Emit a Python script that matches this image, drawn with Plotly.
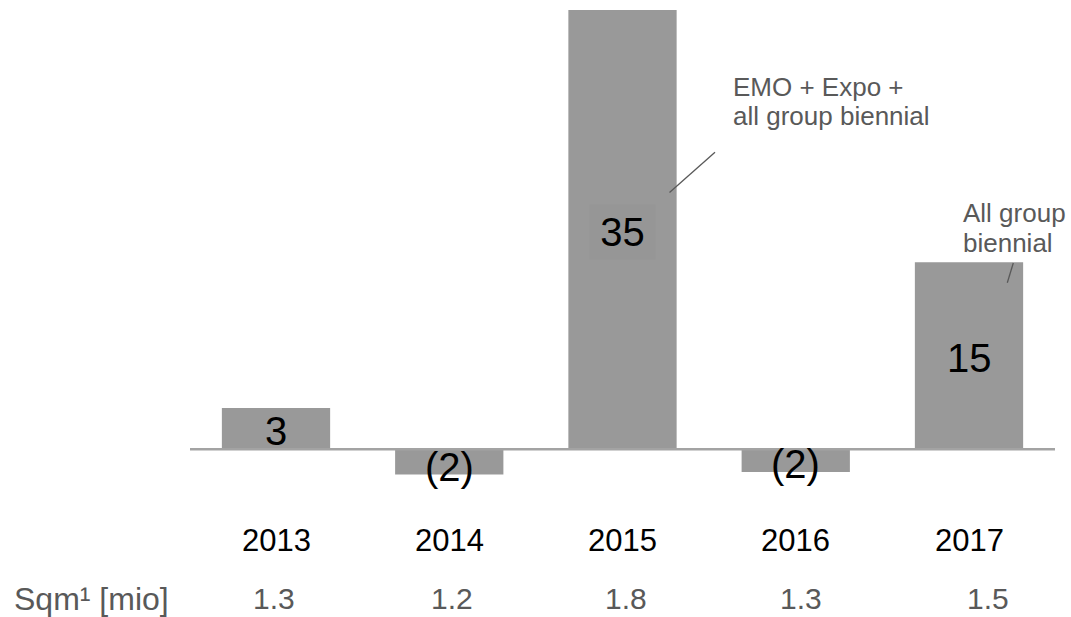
import plotly.graph_objects as go

# ---- data ----
years = ["2013", "2014", "2015", "2016", "2017"]
values = [3.3, -2.0, 35.0, -1.8, 14.9]
value_labels = ["3", "(2)", "35", "(2)", "15"]
sqm_values = ["1.3", "1.2", "1.8", "1.3", "1.5"]
sqm_title = "Sqm¹ [mio]"
note_2015 = ["EMO + Expo +", "all group biennial"]
note_2017 = ["All group", "biennial"]

W, H = 1071, 617
FONT = "Liberation Sans, Arial, sans-serif"
BAR = "#999999"
GREY_TXT = "#595959"

# axis mapping (pixels -> data)
px_per_cat = 173.25
x0_px = 276.0
x_r0 = -x0_px / px_per_cat
x_r1 = x_r0 + W / px_per_cat
base_px = 449.3
px_per_unit = 439.3 / 35.0
y_top = base_px / px_per_unit
y_bot = -(H - base_px) / px_per_unit

xs = list(range(len(years)))

def px(xpix):
    return xpix / W

def py(ypix):
    return 1 - ypix / H

fig = go.Figure()
fig.add_trace(go.Bar(
    x=xs, y=values, width=0.625,
    marker=dict(color=BAR, line=dict(width=0)),
    hoverinfo="skip", showlegend=False,
))

ann = []
# value labels inside bars
label_centers_px = [430.5, 467.0, 231.7, 464.0, 357.5]
for i, (lab, cy) in enumerate(zip(value_labels, label_centers_px)):
    a = dict(x=xs[i], xref="x", y=py(cy), yref="paper", text=lab,
             showarrow=False, xanchor="center", yanchor="middle",
             font=dict(family=FONT, size=40, color="#000000"))
    if lab == "35":
        a.update(bgcolor="#969696", width=57, height=46, borderpad=4)
    ann.append(a)

# year labels
for i, yr in enumerate(years):
    ann.append(dict(x=xs[i], xref="x", y=py(540.5), yref="paper", text=yr,
                    showarrow=False, xanchor="center", yanchor="middle",
                    font=dict(family=FONT, size=31, color="#000000")))

# sqm labels
sqm_shift = [-2, 3, 3, 5, 19]
for i, s in enumerate(sqm_values):
    ann.append(dict(x=xs[i], xref="x", y=py(598.5), yref="paper", text=s,
                    showarrow=False, xanchor="center", yanchor="middle",
                    xshift=sqm_shift[i],
                    font=dict(family=FONT, size=30, color=GREY_TXT)))
ann.append(dict(x=px(12), xref="paper", y=py(598.5), yref="paper", text=sqm_title,
                showarrow=False, xanchor="left", yanchor="middle",
                font=dict(family=FONT, size=32, color=GREY_TXT)))

# notes
for line, cy in zip(note_2015, [87.5, 116.0]):
    ann.append(dict(x=px(731), xref="paper", y=py(cy), yref="paper", text=line,
                    showarrow=False, xanchor="left", yanchor="middle",
                    font=dict(family=FONT, size=26, color=GREY_TXT)))
for line, cy in zip(note_2017, [212.5, 242.5]):
    ann.append(dict(x=px(961), xref="paper", y=py(cy), yref="paper", text=line,
                    showarrow=False, xanchor="left", yanchor="middle",
                    font=dict(family=FONT, size=26, color=GREY_TXT)))

shapes = [
    dict(type="line", xref="paper", yref="y", x0=px(190), x1=px(1055), y0=0, y1=0,
         line=dict(color="#a3a3a3", width=2.5), layer="above"),
    dict(type="line", xref="paper", yref="paper", x0=px(669.5), y0=py(192.5),
         x1=px(715), y1=py(152.3), line=dict(color=GREY_TXT, width=1.3)),
    dict(type="line", xref="paper", yref="paper", x0=px(1007.3), y0=py(282.7),
         x1=px(1013.3), y1=py(263), line=dict(color=GREY_TXT, width=1.3)),
]

fig.update_layout(
    width=W, height=H,
    margin=dict(l=0, r=0, t=0, b=0),
    paper_bgcolor="white", plot_bgcolor="white",
    xaxis=dict(range=[x_r0, x_r1], visible=False, fixedrange=True),
    yaxis=dict(range=[y_bot, y_top], visible=False, fixedrange=True),
    annotations=ann, shapes=shapes,
    showlegend=False,
)
fig.write_html("out.html", config={"displayModeBar": False})
